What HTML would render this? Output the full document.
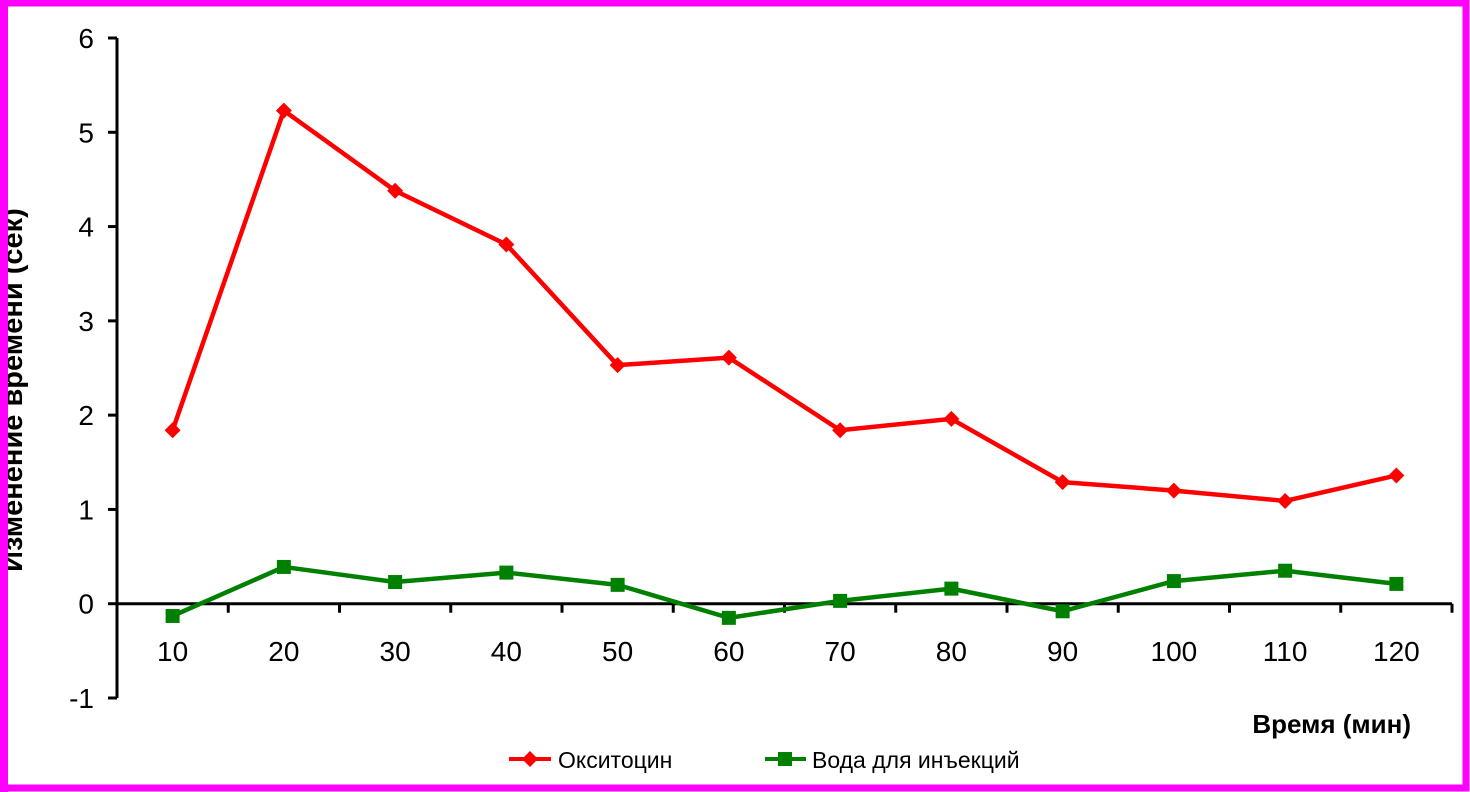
<!DOCTYPE html>
<html><head><meta charset="utf-8"><style>
html,body{margin:0;padding:0;background:#fff;}
svg{display:block;font-family:"Liberation Sans",Arial,sans-serif;}
</style></head><body>
<svg id="chart" width="1470" height="792" viewBox="0 0 1470 792">
<rect x="0" y="0" width="1470" height="792" fill="#fff"/>
<text transform="translate(22,390) rotate(-90)" text-anchor="middle" font-size="29" font-weight="bold" fill="#000">Изменение времени (сек)</text>
<g id="axes"></g>
<g id="series"></g>
<text x="1411" y="733" text-anchor="end" font-size="26" font-weight="bold">Время (мин)</text>
<g>
 <g>
  <line x1="509" y1="759" x2="551" y2="759" stroke="#ff0000" stroke-width="4"/>
  <polygon points="530,751 538,759 530,767 522,759" fill="#ff0000"/>
  <text x="558" y="768" font-size="23">Окситоцин</text>
 </g>
 <g>
  <line x1="765" y1="759" x2="806" y2="759" stroke="#008000" stroke-width="4"/>
  <rect x="778" y="752" width="14" height="14" fill="#008000"/>
  <text x="812" y="768" font-size="23">Вода для инъекций</text>
 </g>
</g>
<rect x="3" y="3" width="1463" height="785" fill="none" stroke="#ff00ff" stroke-width="7"/>
<rect x="0" y="0" width="8" height="792" fill="#ff00ff"/>
</svg>
<script>
const categories=[10,20,30,40,50,60,70,80,90,100,110,120];
const oxytocin=[1.84,5.23,4.38,3.81,2.53,2.61,1.84,1.96,1.29,1.20,1.09,1.36];
const water=[-0.13,0.39,0.23,0.33,0.20,-0.15,0.03,0.16,-0.08,0.24,0.35,0.21];
const yTicks=[-1,0,1,2,3,4,5,6];
const NS="http://www.w3.org/2000/svg";
const x0=117,x1=1452,yTop=38,yBot=698,ymin=-1,ymax=6;
const step=(x1-x0)/categories.length;
function xs(i){return x0+step*(i+0.5);}
function ys(v){return yBot-(v-ymin)/(ymax-ymin)*(yBot-yTop);}
function mk(tag,attrs,parent){const e=document.createElementNS(NS,tag);for(const k in attrs)e.setAttribute(k,attrs[k]);parent.appendChild(e);return e;}
const axes=document.getElementById('axes');
const ya=mk('line',{x1:x0,y1:yTop,x2:x0,y2:yBot,stroke:'#000','stroke-width':3},axes);


yTicks.forEach(v=>{
 const t=mk('line',{x1:x0-9,y1:ys(v),x2:x0,y2:ys(v),stroke:'#000','stroke-width':3},axes);
 
 
 const l=mk('text',{x:94,y:ys(v)+10,'text-anchor':'end','font-size':28},axes);
 l.textContent=v;
 
 
});
const xa=mk('line',{x1:x0,y1:ys(0),x2:x1,y2:ys(0),stroke:'#000','stroke-width':3},axes);


for(let i=1;i<=categories.length;i++){
 const t=mk('line',{x1:x0+step*i,y1:ys(0),x2:x0+step*i,y2:ys(0)+9,stroke:'#000','stroke-width':3},axes);
 
 
}
categories.forEach((c,i)=>{
 const l=mk('text',{x:xs(i),y:661,'text-anchor':'middle','font-size':28},axes);
 l.textContent=c;
 
 
});
const ser=document.getElementById('series');
function drawSeries(vals,color,shape,name){
 const g=mk('g',{},ser);
 
 
 const pl=mk('polyline',{points:vals.map((v,i)=>xs(i)+','+ys(v)).join(' '),fill:'none',stroke:color,'stroke-width':4.5,'stroke-linejoin':'round'},g);
 
 
 vals.forEach((v,i)=>{
  const cx=xs(i),cy=ys(v);let m;
  if(shape==='diamond')m=mk('polygon',{points:`${cx},${cy-8} ${cx+8},${cy} ${cx},${cy+8} ${cx-8},${cy}`,fill:color},g);
  else m=mk('rect',{x:cx-7,y:cy-7,width:14,height:14,fill:color},g);
  
  
 });
}
drawSeries(oxytocin,'#ff0000','diamond','series-oxytocin');
drawSeries(water,'#008000','square','series-water');
</script>
</body></html>
